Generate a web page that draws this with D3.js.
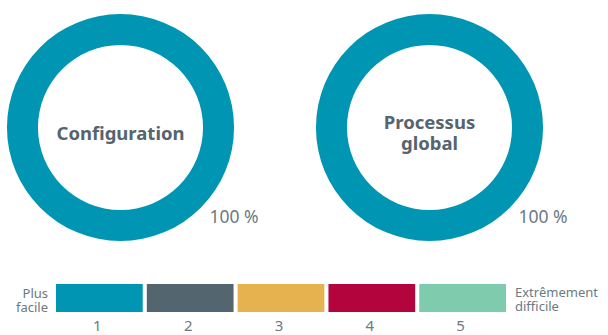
<!DOCTYPE html>
<html>
<head>
<meta charset="utf-8">
<script src="https://cdn.jsdelivr.net/npm/d3@7"></script>
<style>
  body { margin: 0; background: #fff; }
  text { font-family: "Noto Sans", "Open Sans", sans-serif; }
</style>
</head>
<body>
<div id="chart"></div>
<script>
// difficulty levels, 1 = easiest, 5 = hardest
const levels = ['1', '2', '3', '4', '5']
const levelColors = ['#0096b3', '#536670', '#e6b250', '#b3043e', '#7ecbad']

// one donut per topic, share (%) of answers at each level
const topics = [['Configuration'], ['Processus', 'global']]
const topicValues = [
  [100, 0, 0, 0, 0],
  [100, 0, 0, 0, 0]
]
const topicLabels = ['100 %', '100 %']

const legendLeft = ['Plus', 'facile']
const legendRight = ['Extrêmement', 'difficile']

const width = 608
const height = 335

const svg = d3.select('#chart').append('svg')
  .attr('width', width)
  .attr('height', height)

const color = d3.scaleOrdinal().domain(levels).range(levelColors)

// donuts
const cx = d3.scalePoint().domain(d3.range(topics.length)).range([120.5, 429.5])
const cy = 127.5
const outerR = 113.5
const innerR = 82.5

const pie = d3.pie().sort(null).value(d => d)
const arc = d3.arc().innerRadius(innerR).outerRadius(outerR)

topics.forEach((name, i) => {
  const g = svg.append('g')
    .attr('transform', 'translate(' + cx(i) + ',' + cy + ')')

  g.selectAll('path')
    .data(pie(topicValues[i]))
    .enter().append('path')
      .attr('d', arc)
      .attr('fill', (d, j) => color(levels[j]))

  const lineH = 21
  const t = g.append('text')
    .attr('text-anchor', 'middle')
    .attr('font-size', 18.5)
    .attr('font-weight', 'bold')
    .attr('fill', '#55646e')
  name.forEach((line, k) => {
    t.append('tspan')
      .attr('x', 0)
      .attr('y', 12 + (k - (name.length - 1) / 2) * lineH)
      .text(line)
  })

  g.append('text')
    .attr('x', 89)
    .attr('y', 95)
    .attr('font-size', 17.5)
    .attr('fill', '#6b7a83')
    .text(topicLabels[i])
})

// legend
const x = d3.scaleBand().domain(levels).range([56, 506]).paddingInner(0.045)
const legendTop = 284
const legendH = 28

svg.selectAll('.swatch')
  .data(levels)
  .enter().append('rect')
    .attr('class', 'swatch')
    .attr('x', d => x(d))
    .attr('y', legendTop)
    .attr('width', x.bandwidth())
    .attr('height', legendH)
    .attr('fill', d => color(d))

svg.selectAll('.num')
  .data(levels)
  .enter().append('text')
    .attr('class', 'num')
    .attr('x', d => x(d) + x.bandwidth() / 2 - 2)
    .attr('y', 331)
    .attr('text-anchor', 'middle')
    .attr('font-size', 15)
    .attr('fill', '#6b7a83')
    .text(d => d)

const left = svg.append('text')
  .attr('text-anchor', 'end')
  .attr('font-size', 13)
  .attr('fill', '#6b7a83')
legendLeft.forEach((line, k) => {
  left.append('tspan').attr('x', 48).attr('y', 298 + k * 13.5).text(line)
})

const right = svg.append('text')
  .attr('text-anchor', 'start')
  .attr('font-size', 13)
  .attr('fill', '#6b7a83')
legendRight.forEach((line, k) => {
  right.append('tspan').attr('x', 515).attr('y', 297 + k * 13.5).text(line)
})
</script>
</body>
</html>
